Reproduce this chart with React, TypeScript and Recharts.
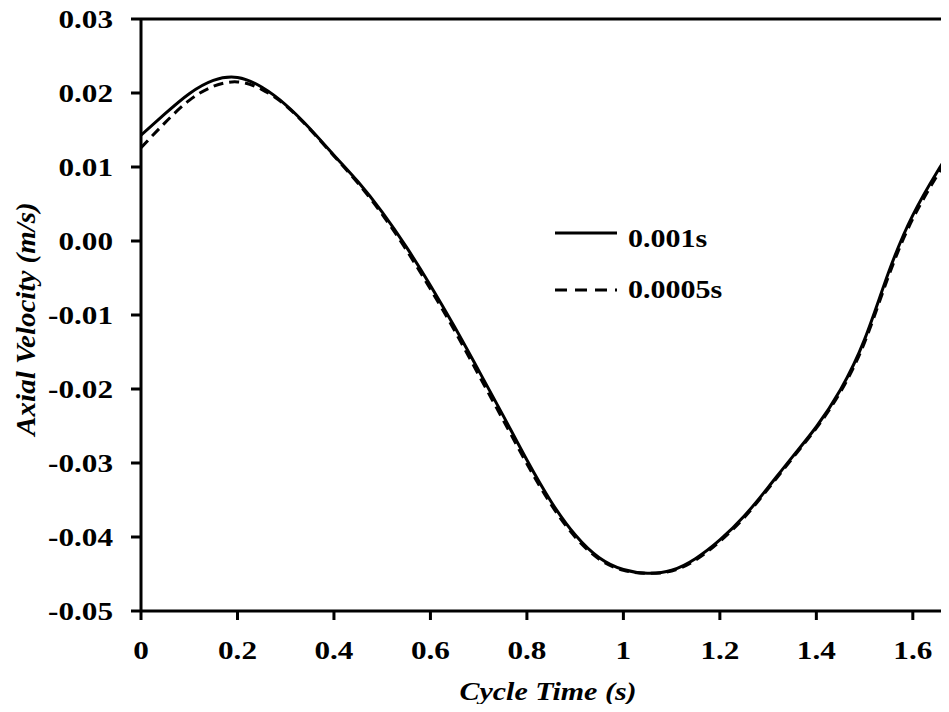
import React from 'react';
import { LineChart, Line, XAxis, YAxis, ReferenceLine, Legend } from 'recharts';

// Cycle time (s)
const times = [0, 0.05, 0.1, 0.15, 0.2, 0.25, 0.3, 0.35, 0.4, 0.45, 0.5, 0.55, 0.6, 0.65, 0.7, 0.75, 0.8, 0.85, 0.9, 0.95, 1.0, 1.05, 1.1, 1.15, 1.2, 1.25, 1.3, 1.35, 1.4, 1.45, 1.5, 1.55, 1.6, 1.65, 1.675];

// time step 0.001s
const step1 = [0.0143, 0.0172, 0.0199, 0.0217, 0.0221, 0.0208, 0.0184, 0.0152, 0.0116, 0.008, 0.0039, -0.0008, -0.006, -0.0116, -0.0175, -0.0235, -0.0296, -0.0352, -0.0397, -0.0428, -0.0444, -0.0449, -0.0445, -0.0429, -0.0404, -0.0372, -0.0333, -0.0292, -0.0251, -0.0201, -0.0133, -0.0042, 0.0035, 0.0093, 0.0119];

// time step 0.0005s
const step2 = [0.0126, 0.016, 0.019, 0.0209, 0.0215, 0.0205, 0.0183, 0.0151, 0.0115, 0.0078, 0.0036, -0.0012, -0.0065, -0.0121, -0.0181, -0.0241, -0.0301, -0.0356, -0.04, -0.043, -0.0445, -0.0449, -0.0446, -0.0431, -0.0406, -0.0374, -0.0335, -0.0294, -0.0253, -0.0204, -0.0137, -0.0047, 0.003, 0.0088, 0.0115];

const xTicks = [0, 0.2, 0.4, 0.6, 0.8, 1, 1.2, 1.4, 1.6];
const yTicks = [-0.05, -0.04, -0.03, -0.02, -0.01, 0, 0.01, 0.02, 0.03];

const data = times.map((t, i) => ({ t, a: step1[i], b: step2[i] }));

const FONT = '"Liberation Serif", "Times New Roman", serif';
const SX = 1.2; // the original figure is stretched horizontally

const YTick = ({ x, y, payload }: any) => (
    <g transform={`translate(${x},${y})`}>
        <text transform={`scale(${SX},1)`} textAnchor="end" dy={9} fontFamily={FONT} fontWeight="bold" fontSize={26} fill="#000">
            {payload.value.toFixed(2)}
        </text>
    </g>
);

const XTick = ({ x, y, payload }: any) => (
    <g transform={`translate(${x},${y})`}>
        <text transform={`scale(${SX},1)`} textAnchor="middle" dy={37} fontFamily={FONT} fontWeight="bold" fontSize={26} fill="#000">
            {String(payload.value)}
        </text>
    </g>
);

const XTitle = ({ viewBox }: any) => (
    <g transform={`translate(${viewBox.x + viewBox.width / 2 + 3},${viewBox.y + 89})`}>
        <text transform={`scale(${SX},1)`} textAnchor="middle" fontFamily={FONT} fontWeight="bold" fontStyle="italic" fontSize={25} fill="#000">
            Cycle Time (s)
        </text>
    </g>
);

const YTitle = ({ viewBox }: any) => (
    <g transform={`translate(${viewBox.x - 26},${viewBox.y + viewBox.height / 2 + 4}) rotate(-90)`}>
        <text textAnchor="middle" fontFamily={FONT} fontWeight="bold" fontStyle="italic" fontSize={25} fill="#000" transform="scale(1.16,1.1)">
            Axial Velocity (m/s)
        </text>
    </g>
);

const LegendBox = () => (
    <svg width={220} height={100} style={{ display: 'block' }}>
        <line x1={15} x2={77} y1={23} y2={23} stroke="#000" strokeWidth={3} />
        <line x1={15} x2={77} y1={80} y2={80} stroke="#000" strokeWidth={3} strokeDasharray="12 8" />
        <g transform="translate(88,37)">
            <text transform={`scale(${SX},1)`} fontFamily={FONT} fontWeight="bold" fontSize={25} fill="#000">0.001s</text>
        </g>
        <g transform="translate(88,88)">
            <text transform={`scale(${SX},1)`} fontFamily={FONT} fontWeight="bold" fontSize={25} fill="#000">0.0005s</text>
        </g>
    </svg>
);

export default function App() {
    return (
        <div style={{ margin: -8, width: 949, height: 712, background: '#fff', overflow: 'hidden' }}>
            <LineChart width={949} height={712} data={data} margin={{ top: 19, right: 0, bottom: 0, left: 61 }}>
                <XAxis
                    dataKey="t"
                    type="number"
                    domain={[0, 1.675]}
                    ticks={xTicks}
                    allowDataOverflow
                    height={101}
                    tickSize={9}
                    tickMargin={2}
                    tick={<XTick />}
                    axisLine={{ stroke: '#000', strokeWidth: 3 }}
                    tickLine={{ stroke: '#000', strokeWidth: 3 }}
                    label={{ content: <XTitle /> }}
                />
                <YAxis
                    type="number"
                    domain={[-0.05, 0.03]}
                    ticks={yTicks}
                    width={80}
                    tickSize={10}
                    tickMargin={18}
                    tick={<YTick />}
                    axisLine={{ stroke: '#000', strokeWidth: 3 }}
                    tickLine={{ stroke: '#000', strokeWidth: 3 }}
                    label={{ content: <YTitle /> }}
                />
                <ReferenceLine y={0.03} stroke="#000" strokeWidth={3} />
                <Line dataKey="a" type="natural" stroke="#000" strokeWidth={3} dot={false} isAnimationActive={false} />
                <Line dataKey="b" type="natural" stroke="#000" strokeWidth={3} strokeDasharray="10 6" dot={false} isAnimationActive={false} />
                <Legend
                    layout="vertical"
                    align="center"
                    verticalAlign="middle"
                    content={<LegendBox />}
                    wrapperStyle={{ left: 540, top: 210, width: 220, height: 100 }}
                />
            </LineChart>
        </div>
    );
}
